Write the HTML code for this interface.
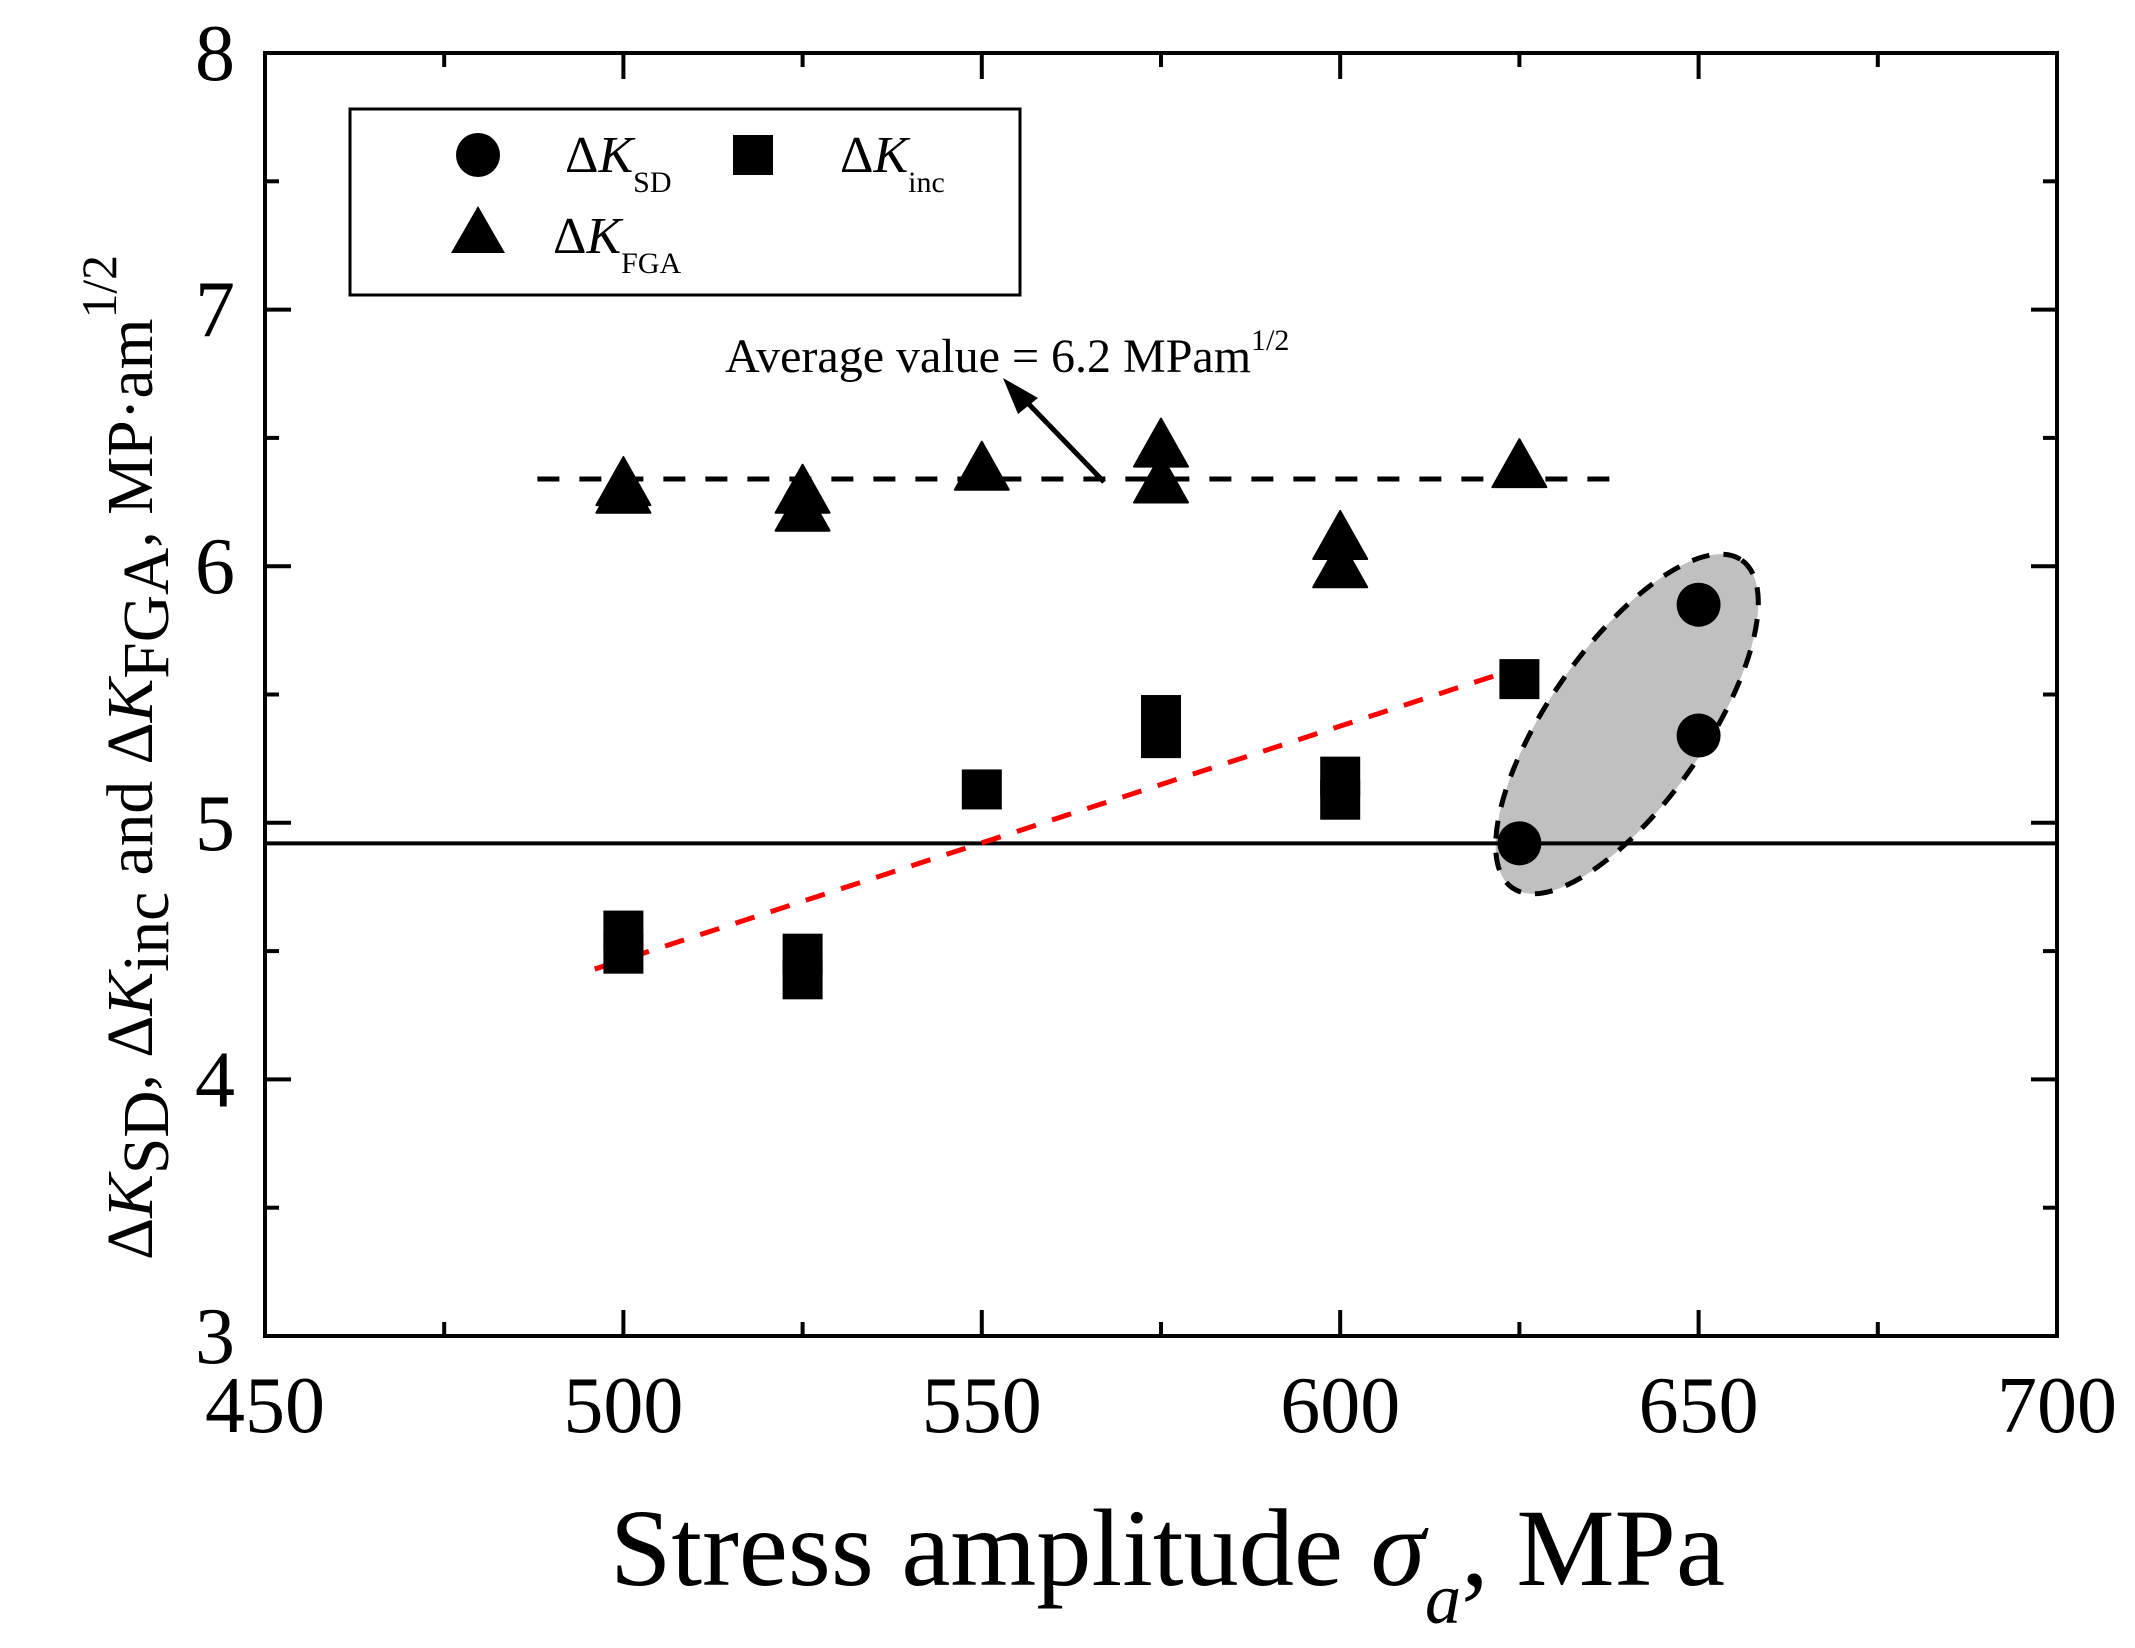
<!DOCTYPE html>
<html><head><meta charset="utf-8"><style>
html,body{margin:0;padding:0;background:#fff;}
svg{display:block;font-family:"Liberation Serif","DejaVu Serif",serif;}
</style></head><body>
<svg id="chart" width="2135" height="1648" viewBox="0 0 2135 1648" xmlns="http://www.w3.org/2000/svg">
<g id="plot"></g>
</svg>
<script>
const xTicks = [450, 500, 550, 600, 650, 700];
const yTicks = [3, 4, 5, 6, 7, 8];
const sdX = [625, 650, 650];
const sdY = [4.92, 5.85, 5.34];
const incX = [500, 500, 525, 525, 550, 575, 575, 600, 600, 625];
const incY = [4.58, 4.49, 4.49, 4.39, 5.13, 5.42, 5.33, 5.18, 5.09, 5.56];
const fgaX = [500, 500, 525, 525, 550, 575, 575, 600, 600, 625];
const fgaY = [6.32, 6.29, 6.29, 6.22, 6.38, 6.47, 6.33, 6.11, 6.0, 6.39];
const avgLineX = [488, 638];
const avgLineY = [6.34, 6.34];
const fitLineX = [496, 625.6];
const fitLineY = [4.43, 5.61];
const thresholdY = [4.92];

const L=265,R=2057,T=53,B=1336;
const sx=v=>L+(v-450)/250*(R-L);
const sy=v=>B-(v-3)/5*(B-T);
const NS="http://www.w3.org/2000/svg";
const g=document.getElementById('plot');
function mk(tag,attrs,parent){const e=document.createElementNS(NS,tag);for(const k in attrs)e.setAttribute(k,attrs[k]);(parent||g).appendChild(e);return e;}

const el=mk('ellipse',{cx:1627,cy:724,rx:200,ry:78,transform:'rotate(-55 1627 724)',fill:'#c0c0c0',stroke:'#000','stroke-width':5,'stroke-dasharray':'18 14'});



const th=mk('line',{x1:L,x2:R,y1:sy(thresholdY[0]),y2:sy(thresholdY[0]),stroke:'#000','stroke-width':4});



const av=mk('line',{x1:sx(avgLineX[0]),x2:sx(avgLineX[1]),y1:sy(avgLineY[0]),y2:sy(avgLineY[1]),stroke:'#000','stroke-width':5,'stroke-dasharray':'22 20'});



const ft=mk('line',{x1:sx(fitLineX[0]),x2:sx(fitLineX[1]),y1:sy(fitLineY[0]),y2:sy(fitLineY[1]),stroke:'#ff0000','stroke-width':5,'stroke-dasharray':'20 17'});



const fr=mk('rect',{x:L,y:T,width:R-L,height:B-T,fill:'none',stroke:'#000','stroke-width':4});



for(let v=450;v<=700;v+=25){const major=(v%50===0);const len=major?26:14;const x=sx(v);
 if(v>450&&v<700){
 const t1=mk('line',{x1:x,x2:x,y1:B,y2:B-len,stroke:'#000','stroke-width':4});
 
 
 const t2=mk('line',{x1:x,x2:x,y1:T,y2:T+len,stroke:'#000','stroke-width':4});
 
 }
}
for(let v=3;v<=8;v+=0.5){const major=(v%1===0);const len=major?26:14;const y=sy(v);
 if(v>3&&v<8){
 const t1=mk('line',{x1:L,x2:L+len,y1:y,y2:y,stroke:'#000','stroke-width':4});
 
 
 const t2=mk('line',{x1:R,x2:R-len,y1:y,y2:y,stroke:'#000','stroke-width':4});
 
 }
}
xTicks.forEach(v=>{const t=mk('text',{x:sx(v),y:1432,'text-anchor':'middle','font-size':80});t.textContent=v;
 
 });
yTicks.forEach(v=>{const t=mk('text',{x:235,y:sy(v)+27,'text-anchor':'end','font-size':80});t.textContent=v;
 
 });

function tri(cx,cy,name){const p=mk('polygon',{points:`${cx},${cy-27} ${cx-27},${cy+21} ${cx+27},${cy+21}`,fill:'#000','stroke-linejoin':'round',stroke:'#000','stroke-width':2});
 
 }
incX.forEach((v,i)=>{const r=mk('rect',{x:sx(v)-20,y:sy(incY[i])-20,width:40,height:40,fill:'#000'});
 
 });
fgaX.forEach((v,i)=>tri(sx(v),sy(fgaY[i]),'k-fga-point'));
sdX.forEach((v,i)=>{const c=mk('circle',{cx:sx(v),cy:sy(sdY[i]),r:22,fill:'#000'});
 
 });

const ar=mk('line',{x1:1104,y1:482,x2:1020,y2:395,stroke:'#000','stroke-width':5});


const ah=mk('polygon',{points:'1003,378 1038,398 1018,414',fill:'#000'});


</script>
<svg style="position:absolute;left:0;top:0" width="2135" height="1648" viewBox="0 0 2135 1648" xmlns="http://www.w3.org/2000/svg" font-family="Liberation Serif, DejaVu Serif, serif">
 <text x="725" y="372" font-size="48">Average value = 6.2 MPam<tspan dy="-22" font-size="30">1/2</tspan></text>
 <g>
  <rect x="350" y="109" width="670" height="186" fill="#fff" stroke="#000" stroke-width="3"/>
  <circle cx="478" cy="155" r="22" fill="#000"/>
  <text x="565" y="172" font-size="52">Δ<tspan font-style="italic">K</tspan><tspan dy="20" font-size="30">SD</tspan></text>
  <rect x="733" y="135" width="40" height="40" fill="#000"/>
  <text x="840" y="172" font-size="52">Δ<tspan font-style="italic">K</tspan><tspan dy="20" font-size="30">inc</tspan></text>
  <polygon points="478,206 451,253 505,253" fill="#000"/>
  <text x="553" y="253" font-size="52">Δ<tspan font-style="italic">K</tspan><tspan dy="20" font-size="30">FGA</tspan></text>
 </g>
 <text x="610" y="1585" font-size="110" textLength="1115" lengthAdjust="spacingAndGlyphs">Stress amplitude <tspan font-style="italic">σ</tspan><tspan dy="38" font-size="72" font-style="italic">a</tspan><tspan dy="-38">, MPa</tspan></text>
 <text transform="translate(152,1260) rotate(-90)" font-size="66" textLength="1005" lengthAdjust="spacingAndGlyphs">Δ<tspan font-style="italic">K</tspan><tspan dy="16">SD</tspan><tspan dy="-16">, Δ</tspan><tspan font-style="italic">K</tspan><tspan dy="16">inc</tspan><tspan dy="-16"> and Δ</tspan><tspan font-style="italic">K</tspan><tspan dy="16">FGA</tspan><tspan dy="-16">, MP·am</tspan><tspan dy="-36" font-size="50">1/2</tspan></text>
</svg>
</body></html>
